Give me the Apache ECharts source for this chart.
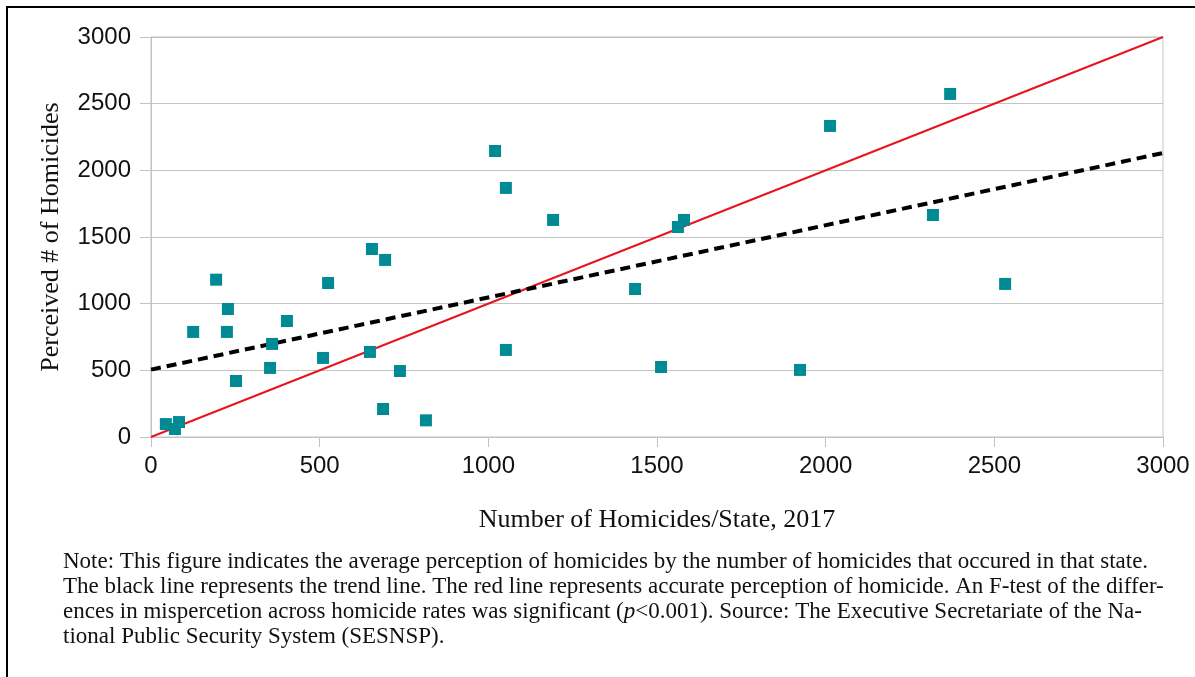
<!DOCTYPE html>
<html>
<head>
<meta charset="utf-8">
<script src="https://cdn.jsdelivr.net/npm/echarts@6/dist/echarts.min.js"></script>
<style>
  html, body {margin: 0; padding: 0; background: #fff;}
  #chart {width: 1195px; height: 677px;}
</style>
</head>
<body>
<div id="chart"></div>
<script>
// actual homicides per state (2017) vs. average perceived number
const actualHomicides = [44, 71, 83, 125, 193, 228, 225, 252, 353, 359, 403, 510, 525, 649, 655, 688, 694, 738, 815,
  1020, 1052, 1052, 1192, 1435, 1512, 1562, 1580, 1924, 2013, 2318, 2369, 2532];
const perceivedHomicides = [97, 60, 112, 788, 1180, 960, 788, 420, 518, 698, 870, 593, 1155, 638, 1410, 210, 1328, 495, 125,
  2145, 1868, 653, 1628, 1110, 525, 1575, 1628, 503, 2333, 1665, 2573, 1148];
const accurateLine = [[0, 0], [3000, 3000]];
const trendLine = [[0, 505], [3000, 2130]];

const noteLines = [
  "Note: This figure indicates the average perception of homicides by the number of homicides that occured in that state.",
  "The black line represents the trend line. The red line represents accurate perception of homicide. An F-test of the differ-",
  "ences in mispercetion across homicide rates was significant ({i|p}<0.001). Source: The Executive Secretariate of the Na-",
  "tional Public Security System (SESNSP).",
];

const serif = "'Liberation Serif', 'Times New Roman', serif";
const sans = "'Liberation Sans', Arial, sans-serif";
const gridGray = "#c3c3c3";

const points = actualHomicides.map((x, i) => [x, perceivedHomicides[i]]);

const chart = echarts.init(document.getElementById("chart"));

const noteGraphics = noteLines.map((line, i) => ({
  type: "text",
  left: 63,
  top: 550 + i * 25.3,
  style: {
    text: line,
    font: `23px ${serif}`,
    fill: "#111",
    rich: {i: {fontStyle: "italic", fontFamily: serif, fontSize: 23}},
  },
}));

chart.setOption({
  animation: false,
  grid: {left: 151, right: 32, top: 37, bottom: 240, show: true, borderColor: gridGray, borderWidth: 1},
  xAxis: {
    type: "value",
    min: 0,
    max: 3000,
    interval: 500,
    name: "Number of Homicides/State, 2017",
    nameLocation: "middle",
    nameGap: 70,
    nameTextStyle: {fontFamily: serif, fontSize: 26, color: "#111"},
    axisLine: {show: true, lineStyle: {color: gridGray}},
    axisTick: {show: true, length: 10, lineStyle: {color: gridGray}},
    axisLabel: {fontFamily: sans, fontSize: 24, color: "#111", margin: 17, formatter: v => String(v)},
    splitLine: {show: false},
  },
  yAxis: {
    type: "value",
    min: 0,
    max: 3000,
    interval: 500,
    name: "Perceived # of Homicides",
    nameLocation: "middle",
    nameGap: 87,
    nameTextStyle: {fontFamily: serif, fontSize: 26, color: "#111"},
    axisLine: {show: true, lineStyle: {color: gridGray}},
    axisTick: {show: true, length: 11, lineStyle: {color: gridGray}},
    axisLabel: {fontFamily: sans, fontSize: 24, color: "#111", margin: 20, formatter: v => String(v)},
    splitLine: {show: true, lineStyle: {color: gridGray, width: 1}},
  },
  series: [
    {
      type: "line",
      data: accurateLine,
      symbol: "none",
      lineStyle: {color: "#e8141f", width: 2},
      z: 3,
    },
    {
      type: "line",
      data: trendLine,
      symbol: "none",
      lineStyle: {color: "#000", width: 4, type: [10, 6]},
      z: 4,
    },
    {
      type: "scatter",
      data: points,
      symbol: "rect",
      symbolSize: 12,
      itemStyle: {color: "#008a93", opacity: 1},
      z: 5,
    },
  ],
  graphic: [
    {
      type: "polyline",
      shape: {points: [[7, 677], [7, 7], [1195, 7]]},
      style: {stroke: "#000", lineWidth: 2, fill: null},
    },
    ...noteGraphics,
  ],
});
</script>
</body>
</html>
